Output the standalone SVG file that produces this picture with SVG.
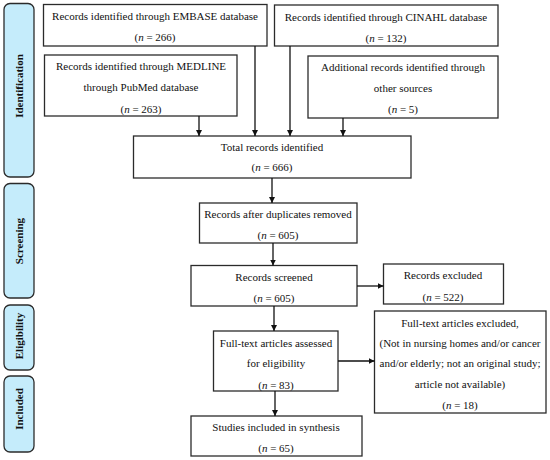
<svg xmlns="http://www.w3.org/2000/svg" width="550" height="460" viewBox="0 0 550 460">
<style>
.box{fill:#fff;stroke:#2b2b2b;stroke-width:1.3}
.side{fill:#c5ecfb;stroke:#2b2b2b;stroke-width:1.3}
.t{font-family:"Liberation Serif","DejaVu Serif",serif;font-size:11px;fill:#111;text-anchor:middle}
.s{font-family:"Liberation Serif","DejaVu Serif",serif;font-size:11px;font-weight:bold;fill:#111;text-anchor:middle}
.c{stroke:#111;stroke-width:1.3;fill:none;marker-end:url(#ah)}
</style>
<defs>
<marker id="ah" viewBox="0 0 10 10" refX="10" refY="5" markerWidth="6" markerHeight="6" markerUnits="userSpaceOnUse" orient="auto">
<path d="M0,0 L10,5 L0,10 Z" fill="#111"/>
</marker>
</defs>
<rect width="550" height="460" fill="#fff"/>
<g id="phase-identification"><rect class="side" x="4" y="3.5" width="30" height="173.5" rx="6"/><text class="s" transform="translate(23,86) rotate(-90)">Identification</text></g>
<g id="phase-screening"><rect class="side" x="4" y="183.5" width="30" height="114.5" rx="6"/><text class="s" transform="translate(23,241) rotate(-90)">Screening</text></g>
<g id="phase-eligibility"><rect class="side" x="4" y="305" width="30" height="65" rx="6"/><text class="s" transform="translate(23,336) rotate(-90)">Eligibility</text></g>
<g id="phase-included"><rect class="side" x="4" y="376" width="30" height="76" rx="6"/><text class="s" transform="translate(23,409) rotate(-90)">Included</text></g>

<g id="embase"><rect class="box" x="43.5" y="4.5" width="223.5" height="41.5"/>
<text class="t" x="155" y="20">Records identified through EMBASE database</text>
<text class="t" x="155" y="41">(<tspan font-style="italic">n</tspan> = 266)</text></g>
<g id="cinahl"><rect class="box" x="274.5" y="5" width="223.5" height="41"/>
<text class="t" x="386" y="21">Records identified through CINAHL database</text>
<text class="t" x="386" y="42">(<tspan font-style="italic">n</tspan> = 132)</text></g>
<g id="medline"><rect class="box" x="44.5" y="55" width="192.5" height="61"/>
<text class="t" x="141" y="70">Records identified through MEDLINE</text>
<text class="t" x="141" y="91">through PubMed database</text>
<text class="t" x="141" y="113">(<tspan font-style="italic">n</tspan> = 263)</text></g>
<g id="additional"><rect class="box" x="308" y="56" width="190" height="62"/>
<text class="t" x="403" y="71">Additional records identified through</text>
<text class="t" x="403" y="92">other sources</text>
<text class="t" x="403" y="113">(<tspan font-style="italic">n</tspan> = 5)</text></g>
<g id="total"><rect class="box" x="133.5" y="136" width="277.5" height="42"/>
<text class="t" x="272" y="151">Total records identified</text>
<text class="t" x="272" y="171">(<tspan font-style="italic">n</tspan> = 666)</text></g>
<g id="dedup"><rect class="box" x="199.5" y="203" width="157.5" height="40"/>
<text class="t" x="278" y="218">Records after duplicates removed</text>
<text class="t" x="278" y="239">(<tspan font-style="italic">n</tspan> = 605)</text></g>
<g id="screened"><rect class="box" x="191" y="265.5" width="166" height="40.5"/>
<text class="t" x="274" y="281">Records screened</text>
<text class="t" x="274" y="302">(<tspan font-style="italic">n</tspan> = 605)</text></g>
<g id="excluded"><rect class="box" x="383.5" y="264" width="120" height="40"/>
<text class="t" x="443" y="279">Records excluded</text>
<text class="t" x="443" y="301">(<tspan font-style="italic">n</tspan> = 522)</text></g>
<g id="fulltext"><rect class="box" x="213.5" y="331" width="124.5" height="60"/>
<text class="t" x="276" y="347">Full-text articles assessed</text>
<text class="t" x="276" y="367">for eligibility</text>
<text class="t" x="276" y="389">(<tspan font-style="italic">n</tspan> = 83)</text></g>
<g id="ft-excluded"><rect class="box" x="374.5" y="311" width="171.5" height="102"/>
<text class="t" x="460" y="327">Full-text articles excluded,</text>
<text class="t" x="460" y="347">(Not in nursing homes and/or cancer</text>
<text class="t" x="460" y="367">and/or elderly; not an original study;</text>
<text class="t" x="460" y="388">article not available)</text>
<text class="t" x="460" y="409">(<tspan font-style="italic">n</tspan> = 18)</text></g>
<g id="included"><rect class="box" x="191" y="416" width="171" height="40"/>
<text class="t" x="276" y="431">Studies included in synthesis</text>
<text class="t" x="276" y="452">(<tspan font-style="italic">n</tspan> = 65)</text></g>

<g id="connectors">
<line class="c" x1="199" y1="116" x2="199" y2="136"/>
<line class="c" x1="255" y1="46" x2="255" y2="136"/>
<line class="c" x1="290" y1="46" x2="290" y2="136"/>
<line class="c" x1="343" y1="118" x2="343" y2="136"/>
<line class="c" x1="272" y1="178" x2="272" y2="203"/>
<line class="c" x1="273" y1="243" x2="273" y2="265.5"/>
<line class="c" x1="357" y1="286" x2="383.5" y2="286"/>
<line class="c" x1="274" y1="306" x2="274" y2="331"/>
<line class="c" x1="338" y1="361" x2="374.5" y2="361"/>
<line class="c" x1="275" y1="391" x2="275" y2="416"/>
</g>
</svg>
